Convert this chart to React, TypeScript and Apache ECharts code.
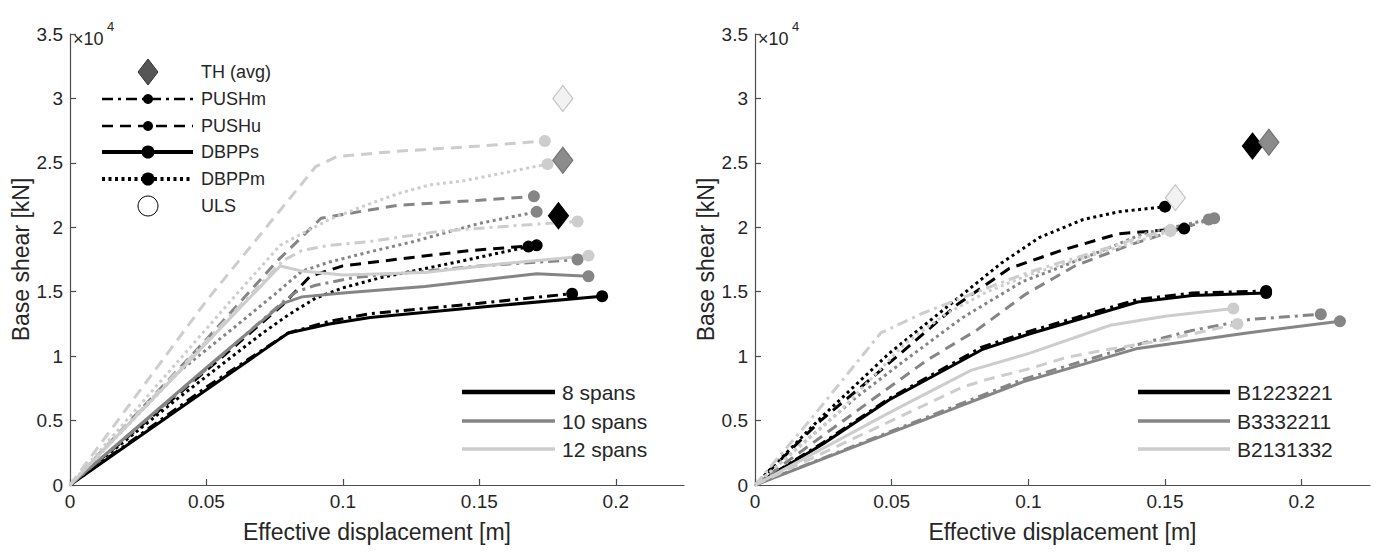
import React, { useEffect, useRef } from "react";
import * as echarts from "echarts";

// ---------- DATA (displacement [m], base shear [kN]) ----------
// Left panel: number of spans
const s8_PUSHm = [[0, 0], [0.05, 7600], [0.08, 11800], [0.095, 12700], [0.11, 13300], [0.15, 14100], [0.184, 14850]];
const s8_PUSHu = [[0, 0], [0.03, 5300], [0.06, 10700], [0.078, 14000], [0.088, 16200], [0.1, 17000], [0.123, 17600], [0.147, 18200], [0.171, 18600]];
const s8_DBPPs = [[0, 0], [0.05, 7400], [0.08, 11800], [0.095, 12500], [0.11, 13000], [0.15, 13800], [0.195, 14650]];
const s8_DBPPm = [[0, 0], [0.04, 6800], [0.07, 11700], [0.08, 13200], [0.09, 14500], [0.1, 15300], [0.114, 16100], [0.144, 17400], [0.168, 18500]];

const s10_PUSHm = [[0, 0], [0.05, 9000], [0.078, 14200], [0.083, 15000], [0.09, 15500], [0.104, 16100], [0.13, 16600], [0.15, 17000], [0.186, 17500]];
const s10_PUSHu = [[0, 0], [0.05, 11300], [0.076, 17400], [0.092, 20700], [0.1, 21000], [0.12, 21700], [0.15, 22100], [0.17, 22400]];
const s10_DBPPs = [[0, 0], [0.05, 9100], [0.078, 14100], [0.085, 14600], [0.1, 14900], [0.13, 15400], [0.171, 16400], [0.19, 16200]];
const s10_DBPPm = [[0, 0], [0.04, 8800], [0.06, 12200], [0.075, 14800], [0.085, 16600], [0.095, 17300], [0.11, 18100], [0.126, 18900], [0.15, 20300], [0.171, 21200]];

const s12_PUSHm = [[0, 0], [0.05, 11200], [0.078, 17400], [0.085, 18200], [0.095, 18600], [0.11, 18900], [0.136, 19700], [0.168, 20200], [0.186, 20450]];
const s12_PUSHu = [[0, 0], [0.05, 14300], [0.09, 24700], [0.098, 25500], [0.12, 25900], [0.15, 26300], [0.174, 26700]];
const s12_DBPPs = [[0, 0], [0.04, 8800], [0.077, 17000], [0.085, 16600], [0.1, 16300], [0.13, 16500], [0.16, 17200], [0.19, 17800]];
const s12_DBPPm = [[0, 0], [0.04, 9700], [0.061, 14800], [0.077, 18600], [0.085, 19500], [0.095, 20600], [0.107, 21600], [0.12, 22600], [0.132, 23300], [0.144, 23600], [0.156, 24100], [0.175, 24900]];

const thSpans = [[0.179, 20900], [0.1806, 25200], [0.1806, 30000]];

// Right panel: building configurations
const B1_PUSHm = [[0, 0], [0.025, 3300], [0.049, 6700], [0.083, 10700], [0.1, 11900], [0.14, 14400], [0.16, 14900], [0.187, 15050]];
const B1_PUSHu = [[0, 0], [0.024, 5000], [0.041, 8000], [0.057, 10900], [0.074, 14000], [0.093, 16800], [0.112, 18200], [0.133, 19500], [0.157, 19900]];
const B1_DBPPs = [[0, 0], [0.025, 3200], [0.049, 6600], [0.083, 10500], [0.1, 11700], [0.14, 14200], [0.16, 14700], [0.187, 14900]];
const B1_DBPPm = [[0, 0], [0.024, 5200], [0.049, 10200], [0.076, 14800], [0.09, 17200], [0.104, 19200], [0.12, 20600], [0.133, 21200], [0.15, 21600]];

const B3_PUSHm = [[0, 0], [0.049, 4100], [0.098, 8200], [0.14, 10900], [0.16, 12000], [0.181, 12850], [0.207, 13250]];
const B3_PUSHu = [[0, 0], [0.046, 7100], [0.063, 9700], [0.081, 12000], [0.099, 14800], [0.117, 17000], [0.138, 18700], [0.168, 20700]];
const B3_DBPPs = [[0, 0], [0.049, 4000], [0.098, 8000], [0.14, 10600], [0.18, 11800], [0.214, 12700]];
const B3_DBPPm = [[0, 0], [0.037, 6800], [0.055, 9700], [0.076, 13000], [0.098, 15800], [0.108, 16600], [0.126, 18100], [0.142, 19500], [0.166, 20600]];

const B2_PUSHm = [[0, 0], [0.02, 5000], [0.046, 11800], [0.05, 12200], [0.061, 13300], [0.085, 15300], [0.1, 16500], [0.126, 18200], [0.142, 19300], [0.152, 19800]];
const B2_PUSHu = [[0, 0], [0.05, 5000], [0.076, 7600], [0.085, 8200], [0.1, 9000], [0.114, 9900], [0.126, 10400], [0.151, 11300], [0.1765, 12500]];
const B2_DBPPs = [[0, 0], [0.049, 5600], [0.079, 8900], [0.1, 10200], [0.13, 12400], [0.15, 13100], [0.175, 13700]];
const B2_DBPPm = [[0, 0], [0.03, 5500], [0.055, 11000], [0.07, 13300], [0.085, 15000], [0.1, 16300], [0.126, 18000], [0.152, 19700]];

const thBuildings = [[0.182, 26300], [0.188, 26600], [0.1538, 22300]];

const xTicks = [0, 0.05, 0.1, 0.15, 0.2];
const leftLegend = ["8 spans", "10 spans", "12 spans"];
const rightLegend = ["B1223221", "B3332211", "B2131332"];
const methodLegend = ["TH (avg)", "PUSHm", "PUSHu", "DBPPs", "DBPPm", "ULS"];

// ---------- STYLE ----------
const BLACK = "#000000";
const GRAY = "#858585";
const LIGHT = "#cdcdcd";
const FONT = "Liberation Sans, Arial, Helvetica, sans-serif";
const TXT = "#262626";
const AX = "#4d4d4d";

const DASH: Record<string, any> = {
  solid: "solid",
  dashed: [11, 7],
  dotted: [3, 3.5],
  dashdot: [11, 5, 3, 5],
};

type Curve = { name: string; data: number[][]; color: string; dash: string; panel: number };

const curves: Curve[] = [
  { name: "8 PUSHm", data: s8_PUSHm, color: BLACK, dash: "dashdot", panel: 0 },
  { name: "8 PUSHu", data: s8_PUSHu, color: BLACK, dash: "dashed", panel: 0 },
  { name: "8 DBPPs", data: s8_DBPPs, color: BLACK, dash: "solid", panel: 0 },
  { name: "8 DBPPm", data: s8_DBPPm, color: BLACK, dash: "dotted", panel: 0 },
  { name: "10 PUSHm", data: s10_PUSHm, color: GRAY, dash: "dashdot", panel: 0 },
  { name: "10 PUSHu", data: s10_PUSHu, color: GRAY, dash: "dashed", panel: 0 },
  { name: "10 DBPPs", data: s10_DBPPs, color: GRAY, dash: "solid", panel: 0 },
  { name: "10 DBPPm", data: s10_DBPPm, color: GRAY, dash: "dotted", panel: 0 },
  { name: "12 PUSHm", data: s12_PUSHm, color: LIGHT, dash: "dashdot", panel: 0 },
  { name: "12 PUSHu", data: s12_PUSHu, color: LIGHT, dash: "dashed", panel: 0 },
  { name: "12 DBPPs", data: s12_DBPPs, color: LIGHT, dash: "solid", panel: 0 },
  { name: "12 DBPPm", data: s12_DBPPm, color: LIGHT, dash: "dotted", panel: 0 },
  { name: "B1 PUSHm", data: B1_PUSHm, color: BLACK, dash: "dashdot", panel: 1 },
  { name: "B1 PUSHu", data: B1_PUSHu, color: BLACK, dash: "dashed", panel: 1 },
  { name: "B1 DBPPs", data: B1_DBPPs, color: BLACK, dash: "solid", panel: 1 },
  { name: "B1 DBPPm", data: B1_DBPPm, color: BLACK, dash: "dotted", panel: 1 },
  { name: "B3 PUSHm", data: B3_PUSHm, color: GRAY, dash: "dashdot", panel: 1 },
  { name: "B3 PUSHu", data: B3_PUSHu, color: GRAY, dash: "dashed", panel: 1 },
  { name: "B3 DBPPs", data: B3_DBPPs, color: GRAY, dash: "solid", panel: 1 },
  { name: "B3 DBPPm", data: B3_DBPPm, color: GRAY, dash: "dotted", panel: 1 },
  { name: "B2 PUSHm", data: B2_PUSHm, color: LIGHT, dash: "dashdot", panel: 1 },
  { name: "B2 PUSHu", data: B2_PUSHu, color: LIGHT, dash: "dashed", panel: 1 },
  { name: "B2 DBPPs", data: B2_DBPPs, color: LIGHT, dash: "solid", panel: 1 },
  { name: "B2 DBPPm", data: B2_DBPPm, color: LIGHT, dash: "dotted", panel: 1 },
];

const diamondFill = ["#000000", "#8c8c8c", "#f2f2f2"];
const diamondBorder = ["#000000", "#737373", "#c4c4c4"];

function axisPair(i: number) {
  const xAxis = {
    type: "value",
    gridIndex: i,
    min: 0,
    max: 0.225,
    name: "Effective displacement [m]",
    nameLocation: "middle",
    nameGap: 35,
    nameTextStyle: { fontSize: 23, color: TXT, fontFamily: FONT },
    axisLine: { show: true, onZero: false, lineStyle: { color: AX, width: 1.2 } },
    axisTick: { show: true, inside: true, length: 6, customValues: xTicks, lineStyle: { color: AX, width: 1.2 } },
    axisLabel: {
      customValues: xTicks,
      fontSize: 19,
      color: TXT,
      fontFamily: FONT,
      margin: 7,
      formatter: (v: number) => String(parseFloat(v.toFixed(3))),
    },
    splitLine: { show: false },
  };
  const yAxis = {
    type: "value",
    gridIndex: i,
    min: 0,
    max: 35000,
    interval: 5000,
    name: "Base shear [kN]",
    nameLocation: "middle",
    nameGap: 36,
    nameTextStyle: { fontSize: 23, color: TXT, fontFamily: FONT },
    axisLine: { show: true, onZero: false, lineStyle: { color: AX, width: 1.2 } },
    axisTick: { show: true, inside: true, length: 6, lineStyle: { color: AX, width: 1.2 } },
    axisLabel: {
      fontSize: 19,
      color: TXT,
      fontFamily: FONT,
      margin: 7,
      formatter: (v: number) => String(parseFloat((v / 10000).toFixed(2))),
    },
    splitLine: { show: false },
  };
  return { xAxis, yAxis };
}

function buildOption() {
  const a0 = axisPair(0);
  const a1 = axisPair(1);
  const series: any[] = [];
  curves.forEach((c) => {
    series.push({
      type: "line",
      name: c.name,
      xAxisIndex: c.panel,
      yAxisIndex: c.panel,
      data: c.data,
      symbol: "none",
      lineStyle: { color: c.color, width: 3, type: DASH[c.dash], cap: "butt" },
      z: 2,
    });
  });
  curves.forEach((c) => {
    series.push({
      type: "scatter",
      name: c.name + " ULS",
      xAxisIndex: c.panel,
      yAxisIndex: c.panel,
      data: [c.data[c.data.length - 1]],
      symbol: "circle",
      symbolSize: 12,
      itemStyle: { color: c.color, opacity: 1 },
      z: 3,
    });
  });
  [thSpans, thBuildings].forEach((pts, panel) => {
    pts.forEach((p, k) => {
      series.push({
        type: "scatter",
        name: "TH " + panel + "-" + k,
        xAxisIndex: panel,
        yAxisIndex: panel,
        data: [p],
        symbol: "diamond",
        symbolSize: [20, 26],
        itemStyle: { color: diamondFill[k], borderColor: diamondBorder[k], borderWidth: 1.2, opacity: 1 },
        z: 4,
      });
    });
  });

  const graphic: any[] = [];
  // x10^4 exponent labels
  [65, 750].forEach((x) => {
    graphic.push({ type: "text", x, y: 22, style: { text: "×10", fontSize: 18, fontFamily: FONT, fill: TXT, verticalAlign: "alphabetic" } });
    graphic.push({ type: "text", x: x + 34, y: 12, style: { text: "4", fontSize: 13, fontFamily: FONT, fill: TXT, verticalAlign: "alphabetic" } });
  });

  // method legend (top-left)
  const rows = [64, 91, 118, 144, 171, 198];
  const lx1 = 94, lx2 = 185, mx = 140, tx = 193;
  graphic.push({
    type: "polygon",
    shape: { points: [[mx, rows[0] - 13], [mx + 10, rows[0]], [mx, rows[0] + 13], [mx - 10, rows[0]]] },
    style: { fill: "#555555", stroke: "#333333", lineWidth: 1 },
  });
  const legendLines = [
    { dash: "dashdot", w: 2.5, r: 5 },
    { dash: "dashed", w: 2.5, r: 5 },
    { dash: "solid", w: 4, r: 6.5 },
    { dash: "dotted", w: 4, r: 6.5 },
  ];
  legendLines.forEach((l, i) => {
    const y = rows[i + 1];
    const ld = DASH[l.dash];
    graphic.push({
      type: "line",
      shape: { x1: lx1, y1: y, x2: lx2, y2: y },
      style: { stroke: BLACK, lineWidth: l.w, lineDash: ld === "solid" ? null : ld, lineCap: "butt" },
    });
    graphic.push({ type: "circle", shape: { cx: mx, cy: y, r: l.r }, style: { fill: BLACK } });
  });
  graphic.push({ type: "circle", shape: { cx: mx, cy: rows[5], r: 10 }, style: { fill: "#ffffff", stroke: "#000000", lineWidth: 1 } });
  methodLegend.forEach((t, i) => {
    graphic.push({ type: "text", x: tx, y: rows[i], style: { text: t, fontSize: 18, fontFamily: FONT, fill: TXT, verticalAlign: "middle" } });
  });

  // color legends (bottom-right of each panel)
  const cRows = [384, 413, 441];
  const cols = [BLACK, GRAY, LIGHT];
  const widths = [4.5, 3.5, 3.5];
  [
    { x1: 454, x2: 547, tx: 554, labels: leftLegend },
    { x1: 1130, x2: 1222, tx: 1229, labels: rightLegend },
  ].forEach((lg) => {
    lg.labels.forEach((t, i) => {
      graphic.push({
        type: "line",
        shape: { x1: lg.x1, y1: cRows[i], x2: lg.x2, y2: cRows[i] },
        style: { stroke: cols[i], lineWidth: widths[i] },
      });
      graphic.push({ type: "text", x: lg.tx, y: cRows[i], style: { text: t, fontSize: 21, fontFamily: FONT, fill: TXT, verticalAlign: "middle" } });
    });
  });

  return {
    animation: false,
    backgroundColor: "#ffffff",
    grid: [
      { left: 62, top: 26, width: 614, height: 455 },
      { left: 747, top: 26, width: 615, height: 455 },
    ],
    xAxis: [a0.xAxis, a1.xAxis],
    yAxis: [a0.yAxis, a1.yAxis],
    series,
    graphic,
  };
}

export default function App() {
  const ref = useRef<HTMLDivElement>(null);
  useEffect(() => {
    if (!ref.current) return;
    const chart = echarts.init(ref.current, undefined, { renderer: "svg" });
    chart.setOption(buildOption() as any);
    return () => chart.dispose();
  }, []);
  return <div ref={ref} style={{ width: 1368, height: 540 }} />;
}
